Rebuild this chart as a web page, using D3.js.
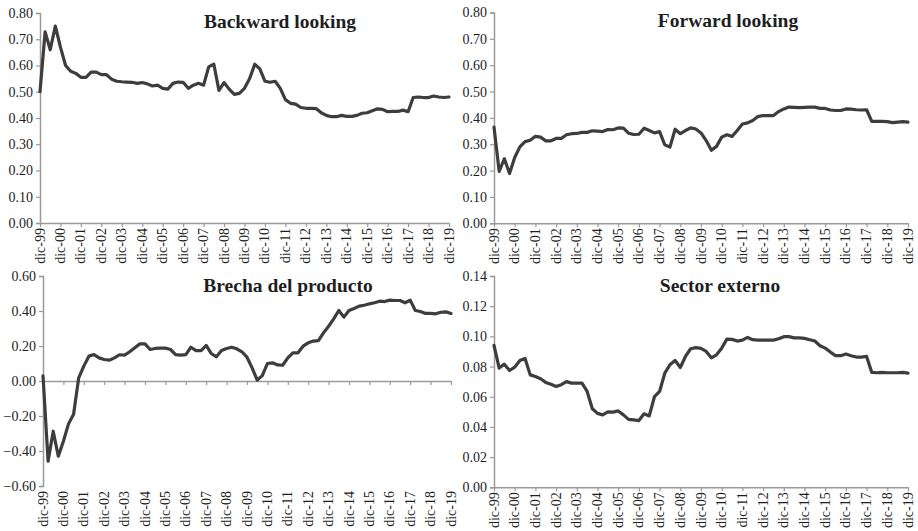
<!DOCTYPE html>
<html>
<head>
<meta charset="utf-8">
<script src="https://cdn.jsdelivr.net/npm/d3@7"></script>
<style>
  html, body { margin: 0; padding: 0; background: #fff; }
  svg { display: block; }
  .tick text { font-family: "Liberation Serif", "Times New Roman", serif; font-size: 14px; fill: #1e1e1e; }
  .title { font-family: "Liberation Serif", "Times New Roman", serif; font-size: 19.5px; font-weight: bold; fill: #1e1e1e; }
</style>
</head>
<body>
<svg id="chart" width="918" height="531"></svg>
<script>
// Quarterly observations, dic-1999 .. dic-2019
const years = d3.range(1999, 2020);
const tickLabels = years.map(y => "dic-" + String(y % 100).padStart(2, "0"));

const backwardLooking = [
  0.50, 0.728, 0.66, 0.75, 0.67, 0.60, 0.578, 0.57, 0.555, 0.555,
  0.575, 0.575, 0.565, 0.565, 0.548, 0.54, 0.538, 0.537, 0.536, 0.532,
  0.535, 0.53, 0.522, 0.525, 0.513, 0.51, 0.532, 0.537, 0.536, 0.513,
  0.525, 0.532, 0.525, 0.595, 0.605, 0.505, 0.535, 0.51, 0.49, 0.494,
  0.513, 0.55, 0.605, 0.587, 0.54, 0.536, 0.54, 0.513, 0.47, 0.456,
  0.453, 0.44, 0.437, 0.437, 0.436, 0.42, 0.41, 0.405, 0.405, 0.41,
  0.406, 0.406, 0.41, 0.418, 0.42, 0.428, 0.435, 0.433, 0.424, 0.425,
  0.425, 0.43, 0.424, 0.478, 0.48, 0.478, 0.478, 0.484, 0.48, 0.478,
  0.48
];

const forwardLooking = [
  0.365, 0.197, 0.245, 0.189, 0.25, 0.29, 0.31, 0.315, 0.33, 0.327,
  0.313, 0.313, 0.322, 0.322, 0.336, 0.34, 0.341, 0.345, 0.345, 0.351,
  0.35, 0.348, 0.356, 0.355, 0.362, 0.361, 0.342, 0.337, 0.338, 0.361,
  0.352, 0.343, 0.348, 0.298, 0.289, 0.357, 0.34, 0.352, 0.362, 0.358,
  0.343, 0.314, 0.277, 0.292, 0.327, 0.336, 0.33, 0.352, 0.377, 0.381,
  0.39, 0.405, 0.409, 0.409, 0.409, 0.424, 0.434, 0.441, 0.44, 0.439,
  0.44, 0.441, 0.441, 0.436, 0.436, 0.43, 0.428, 0.428, 0.434, 0.433,
  0.431, 0.43, 0.431, 0.387, 0.387, 0.387, 0.386, 0.382, 0.384, 0.386,
  0.384
];

const brechaProducto = [
  0.03, -0.458, -0.287, -0.43, -0.344, -0.245, -0.19, 0.018, 0.085, 0.142,
  0.151, 0.132, 0.123, 0.119, 0.132, 0.15, 0.148, 0.167, 0.19, 0.212,
  0.212, 0.18, 0.186, 0.188, 0.188, 0.18, 0.151, 0.148, 0.151, 0.193,
  0.174, 0.174, 0.203, 0.157, 0.138, 0.174, 0.186, 0.193, 0.184, 0.167,
  0.136, 0.075, 0.005, 0.031, 0.10, 0.104, 0.092, 0.09, 0.132, 0.161,
  0.161, 0.199, 0.218, 0.228, 0.231, 0.275, 0.313, 0.355, 0.403, 0.365,
  0.403, 0.414, 0.428, 0.433, 0.441, 0.447, 0.456, 0.454, 0.462, 0.46,
  0.46, 0.447, 0.462, 0.403, 0.397, 0.386, 0.386, 0.384, 0.393, 0.395,
  0.386
];

const sectorExterno = [
  0.094, 0.079, 0.0816, 0.0774, 0.0796, 0.084, 0.0854, 0.0745, 0.0734, 0.0719,
  0.0695, 0.0683, 0.0668, 0.068, 0.070, 0.069, 0.069, 0.069, 0.0635, 0.052,
  0.049, 0.048, 0.050, 0.0498, 0.0506, 0.048, 0.045, 0.0447, 0.0442, 0.0487,
  0.0473, 0.060, 0.0635, 0.0756, 0.0812, 0.084, 0.0794, 0.0867, 0.0918, 0.0925,
  0.092, 0.090, 0.0858, 0.0878, 0.0922, 0.0982, 0.098, 0.0969, 0.0975, 0.0993,
  0.0978, 0.0975, 0.0975, 0.0975, 0.0975, 0.0984, 0.0998, 0.0998, 0.099, 0.099,
  0.0987, 0.0978, 0.0969, 0.0938, 0.0922, 0.0896, 0.0872, 0.0872, 0.0883, 0.0872,
  0.0863, 0.0863, 0.0867, 0.0761, 0.0759, 0.0761, 0.0759, 0.0759, 0.0759, 0.0761,
  0.0756
];

const svg = d3.select("#chart");
const axisColor = "#9a9a9a";
const lineColor = "#3d3d3d";

const panels = [
  { title: "Backward looking", data: backwardLooking, x0: 40, x1: 449, yTop: 13, yBot: 223,
    domain: [0, 0.8], ticks: d3.range(0, 0.81, 0.1), fmt: d3.format(".2f"), zero: 0, titleX: 280, titleY: 28 },
  { title: "Forward looking", data: forwardLooking, x0: 494, x1: 908, yTop: 12.5, yBot: 223.3,
    domain: [0, 0.8], ticks: d3.range(0, 0.81, 0.1), fmt: d3.format(".2f"), zero: 0, titleX: 728, titleY: 27 },
  { title: "Brecha del producto", data: brechaProducto, x0: 43, x1: 451, yTop: 276, yBot: 486,
    domain: [-0.6, 0.6], ticks: d3.range(-0.6, 0.61, 0.2), fmt: d3.format(".2f"), zero: 0, titleX: 288, titleY: 292 },
  { title: "Sector externo", data: sectorExterno, x0: 494, x1: 908, yTop: 276, yBot: 487.3,
    domain: [0, 0.14], ticks: d3.range(0, 0.141, 0.02), fmt: d3.format(".2f"), zero: 0, titleX: 720, titleY: 292 }
];

panels.forEach(p => {
  const g = svg.append("g");
  const x = d3.scaleLinear().domain([0, p.data.length - 1]).range([p.x0, p.x1]);
  const y = d3.scaleLinear().domain(p.domain).range([p.yBot, p.yTop]);

  // vertical axis
  const yAxis = d3.axisLeft(y).tickValues(p.ticks).tickFormat(v => p.fmt(Math.abs(v) < 1e-9 ? 0 : v))
    .tickSize(4).tickPadding(3);
  const ya = g.append("g").attr("transform", `translate(${p.x0},0)`).call(yAxis);
  ya.select(".domain").attr("stroke", axisColor).attr("stroke-width", 1.5);
  ya.selectAll(".tick line").attr("stroke", axisColor).attr("stroke-width", 1.2);

  // horizontal axis along the zero line, one tick per December
  const xAxis = d3.axisBottom(x).tickValues(years.map((yr, i) => i * 4))
    .tickFormat((d, i) => tickLabels[i]).tickSize(4).tickSizeOuter(0);
  const xa = g.append("g").attr("transform", `translate(0,${y(p.zero)})`).call(xAxis);
  xa.select(".domain").attr("stroke", axisColor).attr("stroke-width", 1.5);
  xa.selectAll(".tick line").attr("stroke", axisColor).attr("stroke-width", 1.2);
  xa.selectAll(".tick text").remove();

  // rotated tick labels, placed under the lowest edge of the plot
  const labY = p.yBot + 5;
  g.append("g").selectAll("text").data(tickLabels).join("text")
    .attr("class", "tick-label")
    .attr("transform", (d, i) => `translate(${x(i * 4) + 4.5},${labY}) rotate(-90)`)
    .attr("text-anchor", "end")
    .style("font-family", '"Liberation Serif", "Times New Roman", serif')
    .style("font-size", "14px")
    .style("fill", "#1e1e1e")
    .text(d => d);

  // series line
  const line = d3.line().x((d, i) => x(i)).y(d => y(d));
  g.append("path").datum(p.data)
    .attr("fill", "none").attr("stroke", lineColor).attr("stroke-width", 3.2)
    .attr("stroke-linejoin", "round").attr("stroke-linecap", "round")
    .attr("d", line);

  g.append("text").attr("class", "title").attr("x", p.titleX).attr("y", p.titleY)
    .attr("text-anchor", "middle").text(p.title);
});
</script>
</body>
</html>
